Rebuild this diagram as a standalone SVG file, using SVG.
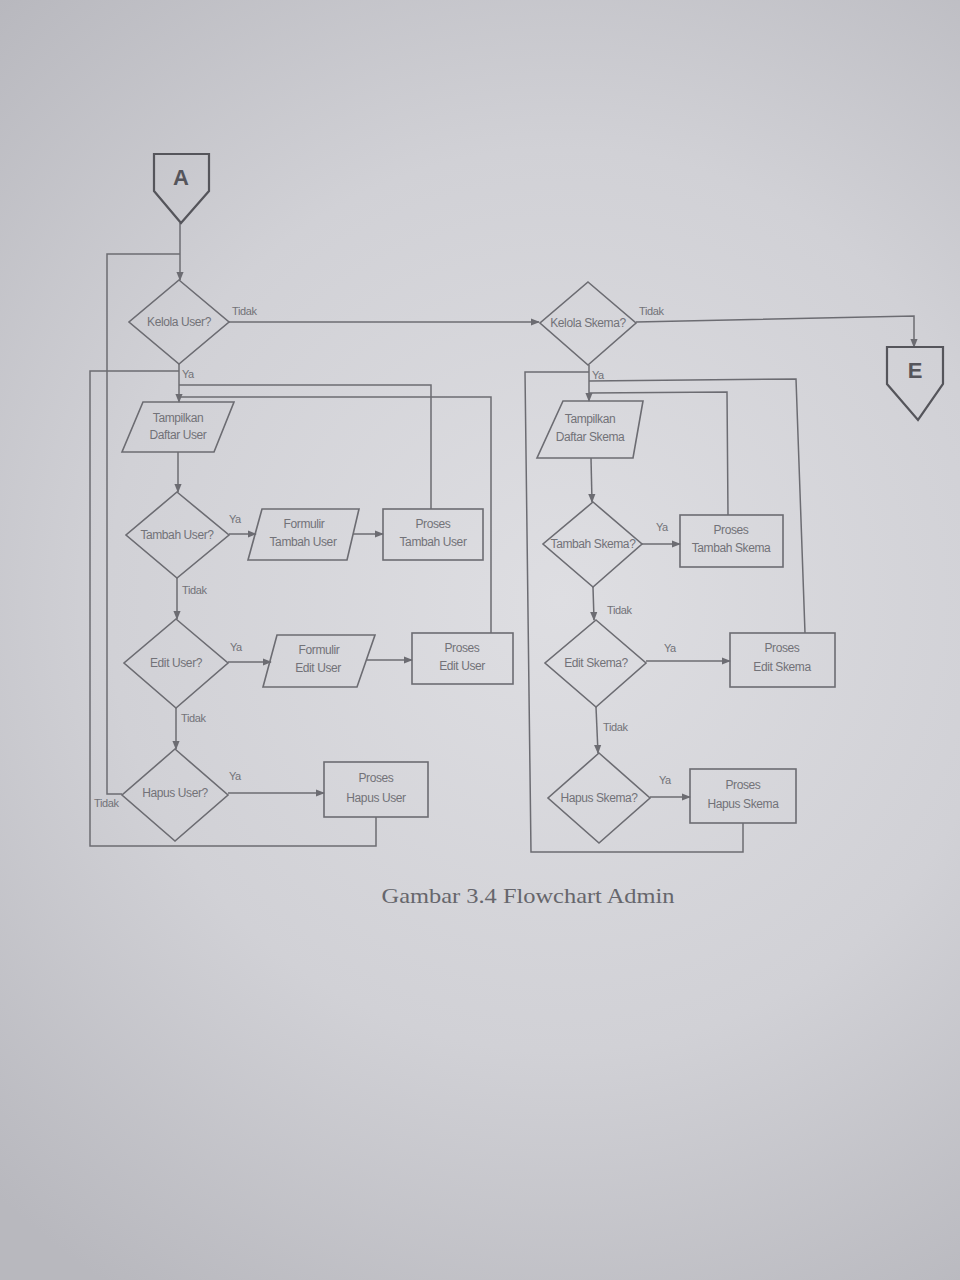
<svg xmlns="http://www.w3.org/2000/svg" width="960" height="1280" viewBox="0 0 960 1280">
<defs>
<radialGradient id="bg" cx="560" cy="600" r="820" gradientUnits="userSpaceOnUse">
<stop offset="0" stop-color="#dedee2"/>
<stop offset="0.55" stop-color="#d1d1d6"/>
<stop offset="1" stop-color="#b8b8be"/>
</radialGradient>
<marker id="arr" viewBox="0 0 10 10" refX="9" refY="5" markerWidth="9" markerHeight="9" orient="auto-start-reverse" markerUnits="userSpaceOnUse">
<path d="M0,1 L10,5 L0,9 z" fill="#6c6c72"/>
</marker>
<style>
.shape{fill:none;stroke:#6c6c72;stroke-width:1.6}
.term{fill:none;stroke:#55555b;stroke-width:2.2}
.line{fill:none;stroke:#6c6c72;stroke-width:1.5}
.arrow{fill:none;stroke:#6c6c72;stroke-width:1.5;marker-end:url(#arr)}
.t{font-family:"Liberation Sans",Arial,sans-serif;font-size:12px;fill:#727278;text-anchor:middle;letter-spacing:-0.4px}
.lbl{font-family:"Liberation Sans",Arial,sans-serif;font-size:11px;fill:#727278;letter-spacing:-0.4px}
.big{font-family:"Liberation Sans",Arial,sans-serif;font-size:22px;font-weight:bold;fill:#55555b;text-anchor:middle}
.cap{font-family:"Liberation Serif","Times New Roman",serif;font-size:21px;fill:#66666c;text-anchor:middle}
</style>
</defs>
<rect x="0" y="0" width="960" height="1280" fill="url(#bg)"/>

<g id="connectors">
<path class="arrow" d="M180,223 L180,280"/>
<path class="arrow" d="M229,322 L539,322"/>
<path class="arrow" d="M179,364 L179,402"/>
<path class="arrow" d="M178,452 L178,492"/>
<path class="arrow" d="M229,534 L256,534"/>
<path class="arrow" d="M353,534 L383,534"/>
<path class="line" d="M431,509 L431,385 L179,385"/>
<path class="arrow" d="M177,578 L177,619"/>
<path class="arrow" d="M228,662 L271,662"/>
<path class="arrow" d="M367,660 L412,660"/>
<path class="line" d="M491,633 L491,397 L179,397"/>
<path class="arrow" d="M176,708 L176,749"/>
<path class="arrow" d="M228,793 L324,793"/>
<path class="line" d="M376,817 L376,846 L90,846 L90,371 L179,371"/>
<path class="line" d="M122,794 L107,794 L107,254 L180,254"/>

<path class="arrow" d="M636,322 L914,316 L914,347"/>
<path class="arrow" d="M589,365 L589,401"/>
<path class="arrow" d="M591,458 L592,502"/>
<path class="arrow" d="M642,544 L680,544"/>
<path class="line" d="M728,515 L727,392 L589,393"/>
<path class="arrow" d="M593,587 L594,620"/>
<path class="arrow" d="M646,661 L730,661"/>
<path class="line" d="M805,633 L796,379 L589,381"/>
<path class="arrow" d="M596,707 L598,753"/>
<path class="arrow" d="M650,797 L690,797"/>
<path class="line" d="M743,823 L743,852 L531,852 L525,372 L589,372"/>
</g>

<g id="labels">
<text class="lbl" x="232" y="315">Tidak</text>
<text class="lbl" x="182" y="378">Ya</text>
<text class="lbl" x="229" y="523">Ya</text>
<text class="lbl" x="182" y="594">Tidak</text>
<text class="lbl" x="230" y="651">Ya</text>
<text class="lbl" x="181" y="722">Tidak</text>
<text class="lbl" x="229" y="780">Ya</text>
<text class="lbl" x="94" y="807">Tidak</text>
<text class="lbl" x="639" y="315">Tidak</text>
<text class="lbl" x="592" y="379">Ya</text>
<text class="lbl" x="656" y="531">Ya</text>
<text class="lbl" x="607" y="614">Tidak</text>
<text class="lbl" x="664" y="652">Ya</text>
<text class="lbl" x="603" y="731">Tidak</text>
<text class="lbl" x="659" y="784">Ya</text>
</g>

<g id="startA">
<path class="term" d="M154,154 L209,154 L209,191 L181,223 L154,191 Z"/>
<text class="big" x="181" y="185">A</text>
</g>

<g id="kelolaUser">
<path class="shape" d="M179,280 L229,322 L179,364 L129,322 Z"/>
<text class="t" x="179" y="326">Kelola User?</text>
</g>

<g id="tampilkanUser">
<path class="shape" d="M143,402 L234,402 L214,452 L122,452 Z"/>
<text class="t" x="178" y="422">Tampilkan</text>
<text class="t" x="178" y="439">Daftar User</text>
</g>

<g id="tambahUser">
<path class="shape" d="M177,492 L229,535 L177,578 L126,535 Z"/>
<text class="t" x="177" y="539">Tambah User?</text>
</g>

<g id="formulirTambahUser">
<path class="shape" d="M262,509 L359,509 L347,560 L248,560 Z"/>
<text class="t" x="304" y="528">Formulir</text>
<text class="t" x="303" y="546">Tambah User</text>
</g>

<g id="prosesTambahUser">
<rect class="shape" x="383" y="509" width="100" height="51"/>
<text class="t" x="433" y="528">Proses</text>
<text class="t" x="433" y="546">Tambah User</text>
</g>

<g id="editUser">
<path class="shape" d="M176,619 L228,663 L176,708 L124,663 Z"/>
<text class="t" x="176" y="667">Edit User?</text>
</g>

<g id="formulirEditUser">
<path class="shape" d="M277,635 L375,635 L357,687 L263,687 Z"/>
<text class="t" x="319" y="654">Formulir</text>
<text class="t" x="318" y="672">Edit User</text>
</g>

<g id="prosesEditUser">
<rect class="shape" x="412" y="633" width="101" height="51"/>
<text class="t" x="462" y="652">Proses</text>
<text class="t" x="462" y="670">Edit User</text>
</g>

<g id="hapusUser">
<path class="shape" d="M175,749 L228,795 L175,841 L122,795 Z"/>
<text class="t" x="175" y="797">Hapus User?</text>
</g>

<g id="prosesHapusUser">
<rect class="shape" x="324" y="762" width="104" height="55"/>
<text class="t" x="376" y="782">Proses</text>
<text class="t" x="376" y="802">Hapus User</text>
</g>

<g id="kelolaSkema">
<path class="shape" d="M588,282 L636,323 L588,365 L540,323 Z"/>
<text class="t" x="588" y="327">Kelola Skema?</text>
</g>

<g id="endE">
<path class="term" d="M887,347 L943,347 L943,384 L918,420 L887,384 Z"/>
<text class="big" x="915" y="378">E</text>
</g>

<g id="tampilkanSkema">
<path class="shape" d="M563,401 L643,401 L633,458 L537,458 Z"/>
<text class="t" x="590" y="423">Tampilkan</text>
<text class="t" x="590" y="441">Daftar Skema</text>
</g>

<g id="tambahSkema">
<path class="shape" d="M593,502 L642,544 L593,587 L543,544 Z"/>
<text class="t" x="593" y="548">Tambah Skema?</text>
</g>

<g id="prosesTambahSkema">
<rect class="shape" x="680" y="515" width="103" height="52"/>
<text class="t" x="731" y="534">Proses</text>
<text class="t" x="731" y="552">Tambah Skema</text>
</g>

<g id="editSkema">
<path class="shape" d="M596,620 L646,663 L596,707 L545,663 Z"/>
<text class="t" x="596" y="667">Edit Skema?</text>
</g>

<g id="prosesEditSkema">
<rect class="shape" x="730" y="633" width="105" height="54"/>
<text class="t" x="782" y="652">Proses</text>
<text class="t" x="782" y="671">Edit Skema</text>
</g>

<g id="hapusSkema">
<path class="shape" d="M599,753 L650,798 L599,843 L548,798 Z"/>
<text class="t" x="599" y="802">Hapus Skema?</text>
</g>

<g id="prosesHapusSkema">
<rect class="shape" x="690" y="769" width="106" height="54"/>
<text class="t" x="743" y="789">Proses</text>
<text class="t" x="743" y="808">Hapus Skema</text>
</g>

<g id="caption">
<text class="cap" x="528" y="903" textLength="293" lengthAdjust="spacingAndGlyphs">Gambar 3.4 Flowchart Admin</text>
</g>
</svg>
